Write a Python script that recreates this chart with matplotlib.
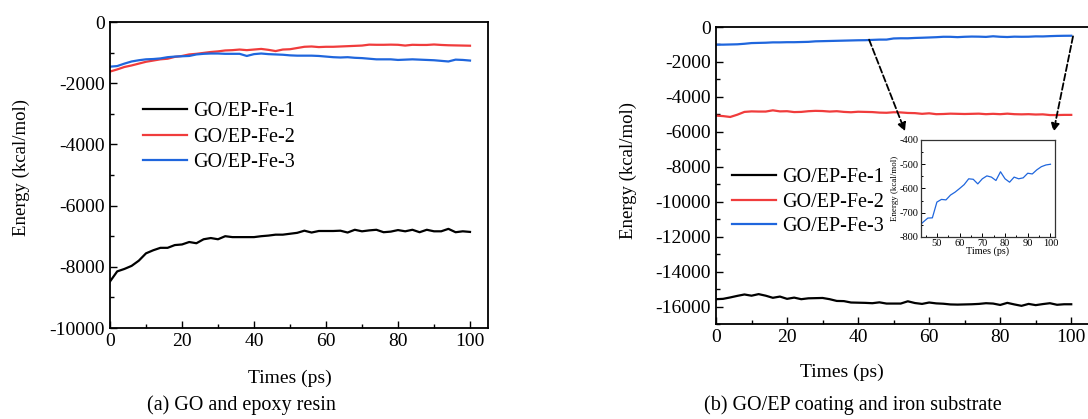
import matplotlib
matplotlib.use("Agg")
import matplotlib.pyplot as plt
from matplotlib.ticker import MultipleLocator

plt.rcParams["font.family"] = ["Liberation Serif", "DejaVu Serif"]
plt.rcParams["axes.unicode_minus"] = False

# time axis, every 2 ps
times = list(range(0, 101, 2))

# (a) GO and epoxy resin
fe1_a = [-8480, -8150, -8070, -7970, -7800, -7560, -7460, -7380, -7380, -7290,
         -7270, -7190, -7230, -7100, -7060, -7100, -7000, -7030, -7030, -7030,
         -7030, -7000, -6980, -6950, -6950, -6920, -6890, -6820, -6880, -6830,
         -6830, -6830, -6820, -6880, -6790, -6840, -6810, -6790, -6870, -6850,
         -6800, -6840, -6790, -6870, -6790, -6840, -6840, -6760, -6870, -6840,
         -6860]
fe2_a = [-1620, -1550, -1470, -1420, -1360, -1300, -1260, -1220, -1200, -1140,
         -1110, -1060, -1040, -1010, -980, -960, -930, -920, -900, -920,
         -900, -880, -910, -950, -900, -890, -850, -810, -800, -820,
         -810, -810, -800, -790, -780, -770, -740, -745, -745, -740,
         -745, -770, -745, -750, -750, -735, -750, -760, -765, -770,
         -775]
fe3_a = [-1460, -1440, -1360, -1290, -1250, -1220, -1210, -1190, -1150, -1130,
         -1120, -1110, -1060, -1040, -1030, -1030, -1040, -1040, -1040, -1110,
         -1050, -1030, -1050, -1060, -1070, -1090, -1100, -1100, -1100, -1110,
         -1130, -1150, -1160, -1150, -1170, -1180, -1200, -1220, -1220, -1220,
         -1240, -1230, -1220, -1230, -1240, -1250, -1270, -1290, -1230, -1240,
         -1260]

# (b) GO/EP coating and iron substrate
fe1_b = [-15580, -15560, -15480, -15390, -15310, -15380, -15290, -15380, -15500, -15430,
         -15560, -15490, -15580, -15530, -15520, -15510, -15580, -15680, -15690, -15770,
         -15780, -15790, -15810, -15760, -15830, -15830, -15830, -15700, -15800, -15850,
         -15770, -15820, -15840, -15880, -15890, -15880, -15870, -15850, -15810, -15830,
         -15910, -15790, -15880, -15960, -15850, -15920, -15860, -15810, -15900, -15870,
         -15870]
fe2_b = [-5070, -5100, -5150, -5020, -4860, -4830, -4840, -4840, -4770, -4830,
         -4820, -4870, -4860, -4820, -4800, -4810, -4840, -4820, -4860, -4880,
         -4850, -4860, -4870, -4900, -4910, -4880, -4890, -4920, -4930, -4970,
         -4940, -4990, -4980, -4960, -4970, -4980, -4970, -4960, -4990, -4970,
         -4990, -4960, -4990, -5000, -4990, -5010, -5000, -5040, -5040, -5030,
         -5030]
fe3_b = [-1010, -1010, -1000, -990, -960, -920, -910, -900, -880, -880,
         -870, -870, -860, -850, -820, -810, -800, -790, -780, -770,
         -760, -755, -738, -722, -721, -656, -645, -647, -627, -615,
         -600, -584, -560, -562, -581, -560, -548, -553, -567, -531,
         -560, -574, -553, -560, -556, -537, -540, -523, -510, -503,
         -500]

labels = ["GO/EP-Fe-1", "GO/EP-Fe-2", "GO/EP-Fe-3"]
colors = ["black", "#f03c3c", "#1f66dd"]

W, H = 1088, 419


def px(x0, y0, x1, y1):
    # pixel box -> figure fraction [left, bottom, width, height]
    return [x0 / W, 1 - y1 / H, (x1 - x0) / W, (y1 - y0) / H]


def style_axis(ax, size):
    ax.tick_params(which="both", direction="in", top=False, right=False,
                   labelsize=size, width=1.0)
    ax.tick_params(which="major", length=5)
    ax.tick_params(which="minor", length=3)
    for s in ax.spines.values():
        s.set_linewidth(1.3)


fig = plt.figure(figsize=(W / 100, H / 100), dpi=100)

# ---------------- (a) ----------------
ax1 = fig.add_axes(px(110, 22, 488, 328))
for vals, lab, col in zip([fe1_a, fe2_a, fe3_a], labels, colors):
    ax1.plot(times, vals, color=col, lw=1.6, label=lab)
ax1.set_xlim(0, 105)
ax1.set_ylim(-10000, 0)
ax1.xaxis.set_major_locator(MultipleLocator(20))
ax1.xaxis.set_minor_locator(MultipleLocator(10))
ax1.yaxis.set_major_locator(MultipleLocator(2000))
ax1.yaxis.set_minor_locator(MultipleLocator(1000))
ax1.set_xticks([0, 20, 40, 60, 80, 100])
style_axis(ax1, 14)
ax1.legend(loc="upper left", bbox_to_anchor=(143 / W, 1 - 102 / H),
           bbox_transform=fig.transFigure, frameon=False, fontsize=14.5,
           handlelength=2.2, handletextpad=0.3, labelspacing=0.32,
           borderpad=0, borderaxespad=0)
fig.text(21 / W, 1 - 167 / H, "Energy (kcal/mol)", rotation=90,
         ha="center", va="center", fontsize=13.5)
fig.text(290 / W, 1 - 378 / H, "Times (ps)", ha="center", va="center", fontsize=14)
fig.text(241 / W, 1 - 405 / H, "(a) GO and epoxy resin", ha="center", va="center",
         fontsize=14.5)

# ---------------- (b) ----------------
ax2 = fig.add_axes(px(716, 27, 1089, 324))
for vals, lab, col in zip([fe1_b, fe2_b, fe3_b], labels, colors):
    ax2.plot(times, vals, color=col, lw=1.6, label=lab)
ax2.set_xlim(0, 105)
ax2.set_ylim(-17000, 0)
ax2.xaxis.set_major_locator(MultipleLocator(20))
ax2.xaxis.set_minor_locator(MultipleLocator(10))
ax2.yaxis.set_major_locator(MultipleLocator(2000))
ax2.yaxis.set_minor_locator(MultipleLocator(1000))
ax2.set_xticks([0, 20, 40, 60, 80, 100])
ax2.set_yticks(list(range(-16000, 1, 2000)))
style_axis(ax2, 14)
ax2.legend(loc="upper left", bbox_to_anchor=(732 / W, 1 - 168 / H),
           bbox_transform=fig.transFigure, frameon=False, fontsize=14.5,
           handlelength=2.2, handletextpad=0.3, labelspacing=0.27,
           borderpad=0, borderaxespad=0)
fig.text(628 / W, 1 - 170 / H, "Energy (kcal/mol)", rotation=90,
         ha="center", va="center", fontsize=13.5)
fig.text(842 / W, 1 - 372 / H, "Times (ps)", ha="center", va="center", fontsize=14)
fig.text(853 / W, 1 - 405 / H, "(b) GO/EP coating and iron substrate",
         ha="center", va="center", fontsize=14.5)

# dashed zoom arrows into the inset
arrow = dict(arrowstyle="-|>", ls="--", lw=1.3, color="black",
             mutation_scale=12, shrinkA=0, shrinkB=0)
ax2.annotate("", xy=(53.2, -5970), xytext=(43.1, -726), arrowprops=arrow,
             annotation_clip=False)
ax2.annotate("", xy=(95.0, -6000), xytext=(100.5, -537), arrowprops=arrow,
             annotation_clip=False)

# inset: GO/EP-Fe-3 zoomed
ins = fig.add_axes(px(921, 140, 1055, 237))
ins.plot(times, fe3_b, color=colors[2], lw=0.9)
ins.set_xlim(43, 102)
ins.set_ylim(-800, -400)
ins.xaxis.set_major_locator(MultipleLocator(10))
ins.xaxis.set_minor_locator(MultipleLocator(5))
ins.yaxis.set_major_locator(MultipleLocator(100))
ins.yaxis.set_minor_locator(MultipleLocator(50))
ins.tick_params(which="both", direction="in", top=False, right=False,
                labelsize=7.5, width=0.7, pad=1.5)
ins.tick_params(which="major", length=3)
ins.tick_params(which="minor", length=1.5)
for s in ins.spines.values():
    s.set_linewidth(0.9)
    s.set_color("#333333")
ins.set_xlabel("Times (ps)", fontsize=7.3, labelpad=-1.5)
ins.set_ylabel("Energy (kcal/mol)", fontsize=6.4, labelpad=1)

fig.savefig("out.png", dpi=100)
